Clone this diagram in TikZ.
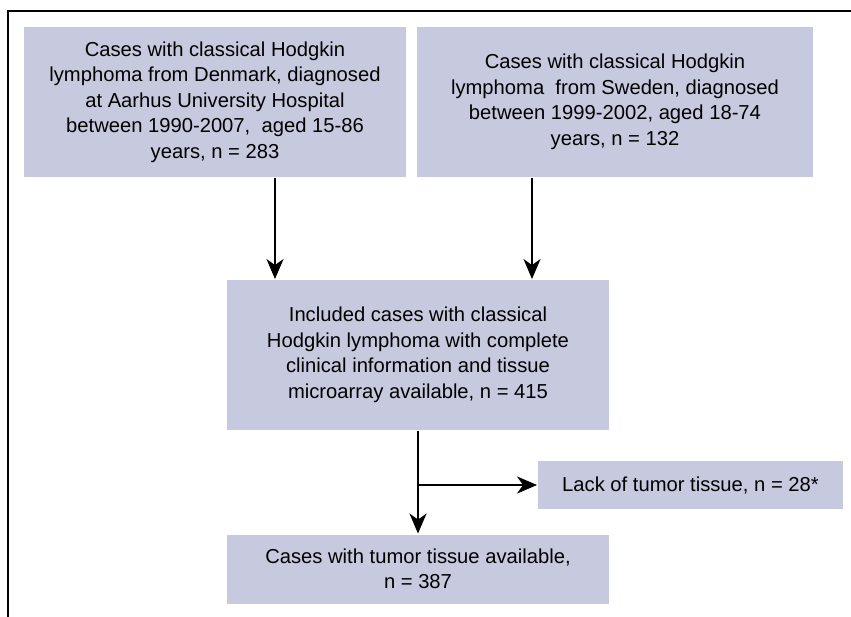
\documentclass[tikz,border=0pt]{standalone}
\usepackage{fontspec}
\setmainfont{Liberation Sans}
\usepackage{tikz}
\usetikzlibrary{positioning, arrows.meta}
\definecolor{boxfill}{RGB}{199,201,222}

\begin{document}
\begin{tikzpicture}[x=1pt, y=-1pt, on grid, >={Stealth[length=20pt, width=17pt, inset=6pt]},
    box/.style={fill=boxfill, align=center, inner sep=0pt, minimum width=382pt, minimum height=150pt, font=\fontsize{20.2}{25.5}\selectfont},
    every path/.style={line width=1.9pt}]
      \useasboundingbox (0,0) rectangle (851,617);
      \draw[line width=2pt] (8,617) -- (8,11) -- (851,11);
      \node[box] (dk) at (215,102) {Cases with classical Hodgkin\\lymphoma from Denmark, diagnosed\\at Aarhus University Hospital\\between 1990-2007,~ aged 15-86\\years, n = 283};
      \node[box, right=400pt of dk, minimum width=396pt] (se) {Cases with classical Hodgkin\\lymphoma~ from Sweden, diagnosed\\between 1999-2002, aged 18-74\\years, n = 132};
      \node[box, below right=253pt and 203pt of dk] (incl) {Included cases with classical\\Hodgkin lymphoma with complete\\clinical information and tissue\\microarray available, n = 415};
      \node[box, below=214pt of incl, minimum height=69pt] (avail) {Cases with tumor tissue available,\\n = 387};
      \node[box, below right=130pt and 272.5pt of incl, minimum width=305pt, minimum height=48pt] (lack) {Lack of tumor tissue, n = 28*};
      \draw[->] ([xshift=60pt]dk.south) -- ([xshift=60pt]dk.south |- incl.north);
      \draw[->] ([xshift=-83pt]se.south) -- ([xshift=-83pt]se.south |- incl.north);
      \draw[->] (incl) -- (avail);
      \draw[->] (incl.south |- lack.west) -- (lack.west);
    \end{tikzpicture}
\end{document}
